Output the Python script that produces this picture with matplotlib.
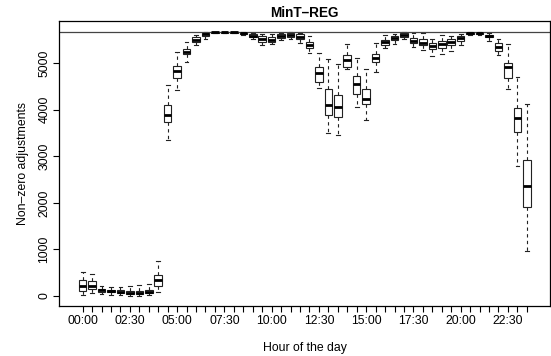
import matplotlib
matplotlib.use("Agg")
import matplotlib.pyplot as plt

plt.rcParams['font.family'] = ['Liberation Sans', 'DejaVu Sans']

# half-hourly box statistics (48 periods)
lo = [20, 60, 40, 30, 20, 10, 10, 20, 80, 3350, 4430, 5030, 5400, 5520,
      5640, 5640, 5640, 5600, 5530, 5390, 5405, 5500, 5520, 5445, 5215, 4460,
      3495, 3460, 4870, 4055, 3780, 4805, 5320, 5415, 5515, 5355, 5285, 5165,
      5190, 5265, 5390, 5610, 5610, 5485, 5175, 4445, 2795, 975]
q1 = [110, 150, 90, 80, 60, 50, 40, 60, 220, 3730, 4680, 5190, 5460, 5590,
      5655, 5655, 5655, 5625, 5560, 5465, 5465, 5550, 5570, 5520, 5320, 4605,
      3890, 3850, 4925, 4340, 4125, 5020, 5390, 5500, 5555, 5430, 5390, 5305,
      5320, 5390, 5480, 5635, 5635, 5560, 5270, 4675, 3515, 1905]
med = [210, 220, 120, 105, 90, 75, 65, 90, 340, 3890, 4830, 5250, 5510, 5620,
       5662, 5662, 5662, 5640, 5590, 5520, 5510, 5590, 5605, 5570, 5390, 4800,
       4100, 4070, 5070, 4555, 4230, 5105, 5450, 5550, 5605, 5485, 5445, 5380,
       5415, 5450, 5535, 5650, 5650, 5590, 5355, 4915, 3815, 2365]
q3 = [350, 330, 150, 135, 120, 110, 100, 130, 450, 4100, 4940, 5300, 5555, 5650,
      5667, 5667, 5667, 5655, 5620, 5590, 5570, 5620, 5640, 5620, 5450, 4925,
      4440, 4320, 5175, 4735, 4440, 5190, 5500, 5590, 5640, 5535, 5515, 5445,
      5480, 5515, 5595, 5660, 5660, 5610, 5430, 5015, 4030, 2920]
hi = [520, 480, 220, 200, 190, 220, 230, 260, 760, 4540, 5250, 5460, 5605, 5675,
      5670, 5670, 5670, 5670, 5645, 5630, 5630, 5645, 5675, 5645, 5585, 5230,
      5085, 4985, 5405, 5120, 4870, 5445, 5605, 5630, 5680, 5645, 5645, 5520,
      5605, 5595, 5630, 5670, 5670, 5645, 5515, 5415, 4715, 4125]
max_series = 5670

hours = [f"{h:02d}:{m:02d}" for h in range(24) for m in (0, 30)]
tick_labels = [lab if i % 5 == 0 else "" for i, lab in enumerate(hours)]

stats = [dict(whislo=a, q1=b, med=c, q3=d, whishi=e, fliers=[])
         for a, b, c, d, e in zip(lo, q1, med, q3, hi)]
pos = list(range(1, len(stats) + 1))

fig = plt.figure(figsize=(5.51, 3.56), dpi=100)
ax = fig.add_axes([59 / 551, 50 / 356, 491 / 551, 285 / 356])

ax.bxp(stats, positions=pos, widths=0.8, capwidths=0.4, patch_artist=True,
       boxprops=dict(facecolor="white", edgecolor="#222222", linewidth=0.8),
       medianprops=dict(color="black", linewidth=2.0, solid_capstyle="butt"),
       whiskerprops=dict(color="#222222", linewidth=0.8, linestyle=(0, (3, 3))),
       capprops=dict(color="#222222", linewidth=0.8))
ax.axhline(max_series, color="#444444", linewidth=0.9)

ax.set_xlim(-1.5, 50.45)
ax.set_ylim(-215, 5908)
ax.set_xticks(pos)
ax.set_xticklabels(tick_labels, fontsize=8.8)
ax.set_yticks([0, 1000, 2000, 3000, 4000, 5000])
ax.set_yticklabels(["0", "1000", "2000", "3000", "4000", "5000"],
                   fontsize=8.8, rotation=90, va="center")
ax.tick_params(length=4.3, width=0.8, pad=2)
for s in ax.spines.values():
    s.set_linewidth(0.9)

ax.set_xlabel("Hour of the day", fontsize=8.8, labelpad=11)
ax.set_ylabel("Non\u2013zero adjustments", fontsize=8.8, labelpad=7)
ax.set_title("MinT\u2013REG", fontsize=9.8, fontweight="bold", pad=3)

fig.savefig("out.png", dpi=100)
